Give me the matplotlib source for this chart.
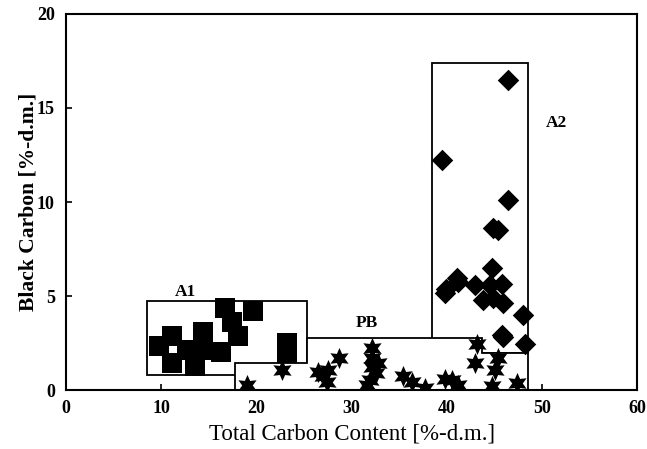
import matplotlib
matplotlib.use("Agg")
import matplotlib.pyplot as plt
from matplotlib.patches import Polygon

# A1 group (squares)
a1_x = [9.77, 11.13, 11.17, 12.68, 14.42, 14.42, 13.55, 16.25, 16.7, 17.44,
        18.07, 19.67, 23.18, 23.18]
a1_y = [2.36, 2.89, 1.42, 2.13, 3.07, 2.13, 1.29, 2.04, 4.36, 3.62,
        2.87, 4.22, 2.5, 1.97]

# PB group (stars)
pb_x = [18.98, 22.66, 26.5, 27.0, 27.38, 27.55, 28.68, 31.59, 31.93, 32.14,
        32.1, 32.1, 32.8, 32.56, 35.43, 36.31, 37.71, 39.81, 40.55, 41.2,
        42.96, 43.14, 44.72, 45.06, 45.41, 47.34]
pb_y = [0.27, 1.06, 0.97, 0.74, 0.44, 1.06, 1.69, 0.27, 0.53, 1.24,
        1.69, 2.22, 1.42, 0.9, 0.74, 0.44, 0.13, 0.62, 0.53, 0.27,
        1.42, 2.48, 0.24, 1.06, 1.69, 0.36]

# A2 group (diamonds)
a2_x = [46.46, 39.46, 46.46, 44.88, 45.41, 44.72, 41.04, 41.2, 39.81, 39.92,
        42.96, 44.54, 45.77, 43.83, 44.88, 45.94, 48.04, 45.77, 45.94, 48.21]
a2_y = [16.49, 12.23, 10.1, 8.6, 8.51, 6.47, 5.94, 5.74, 5.14, 5.37,
        5.59, 5.59, 5.67, 4.79, 4.88, 4.61, 3.99, 2.93, 2.82, 2.48]

# group outlines
a2_box = [(38.45, 1.95), (38.45, 17.4), (48.55, 17.4), (48.55, 1.95)]
a1_box = [(8.5, 0.8), (8.5, 4.75), (25.3, 4.75), (25.3, 0.8)]
pb_box = [(17.75, 0), (17.75, 1.44), (25.3, 1.44), (25.3, 2.77), (43.7, 2.77),
          (43.7, 1.95), (48.55, 1.95), (48.55, 0)]

serif = ["Liberation Serif", "DejaVu Serif"]
plt.rcParams['font.family'] = serif

fig = plt.figure(figsize=(6.47, 4.49), dpi=100)
ax = fig.add_axes([0.102, 0.131, 0.883, 0.838])

ax.add_patch(Polygon(a2_box, closed=True, facecolor='white', edgecolor='black', lw=1.3, zorder=1))
ax.add_patch(Polygon(a1_box, closed=True, facecolor='white', edgecolor='black', lw=1.3, zorder=1.5))
ax.add_patch(Polygon(pb_box, closed=True, facecolor='white', edgecolor='black', lw=1.3, zorder=2))

ax.scatter(a1_x, a1_y, marker='s', s=210, color='black', linewidths=0, zorder=3)
ax.scatter(pb_x, pb_y, marker=(6, 1, 0), s=230, color='black', linewidths=0, zorder=3)
ax.scatter(a2_x, a2_y, marker='D', s=120, color='black', linewidths=0, zorder=3)

ax.text(12.5, 5.2, "A1", fontsize=12.5, fontweight='bold', ha='center', va='center')
ax.text(31.6, 3.55, "PB", fontsize=12.5, fontweight='bold', ha='center', va='center')
ax.text(51.5, 14.2, "A2", fontsize=12.5, fontweight='bold', ha='center', va='center')

ax.set_xlim(0, 60)
ax.set_ylim(0, 20)
ax.set_xticks(range(0, 61, 10))
ax.set_yticks(range(0, 21, 5))
ax.tick_params(direction='in', length=4, width=1.2, labelsize=13,
               top=False, right=False)
for lab in ax.get_xticklabels() + ax.get_yticklabels():
    lab.set_fontweight('bold')
ax.tick_params(axis='x', pad=7)
ax.tick_params(axis='y', pad=8)
for sp in ax.spines.values():
    sp.set_linewidth(1.5)

ax.set_xlabel("Total Carbon Content [%-d.m.]", fontsize=16.5, labelpad=5)
ax.set_ylabel("Black Carbon [%-d.m.]", fontsize=15.5, fontweight='bold', labelpad=-1)

fig.savefig("out.png", dpi=100)
